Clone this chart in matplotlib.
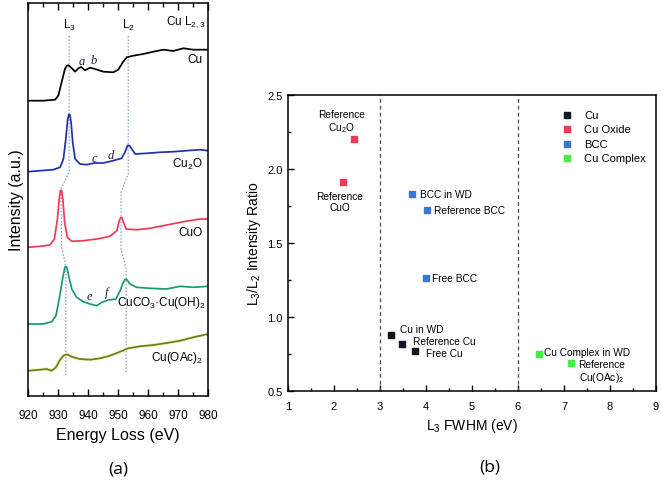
import numpy as np
import matplotlib.pyplot as plt
from matplotlib.ticker import MultipleLocator, FormatStrFormatter

plt.rcParams['font.family'] = ['Liberation Sans', 'DejaVu Sans']
plt.rcParams['mathtext.fontset'] = 'custom'
plt.rcParams['mathtext.rm'] = 'Liberation Sans'
plt.rcParams['mathtext.it'] = 'Liberation Sans:italic'

# ---- panel (a): EELS spectra (energy in eV, intensity in a.u., offset stacked)
e_cu = [920, 925.1, 929.0, 930.1, 931.2, 932.3, 933.0, 933.6, 934.6, 935.7, 936.8, 937.7, 939.0, 940.7, 942.3,
        945.1, 948.4, 950.1, 951.6, 952.9, 955.1, 958.4, 961.8, 965.1, 968.4, 971.8, 975.1, 980]
i_cu = [295.3, 295.3, 296.3, 300.3, 313.7, 327, 330.5, 330.5, 327.7, 324.3, 327.7, 329, 325.7, 328.3, 327,
        324.3, 323.7, 326.3, 333.7, 338.7, 340.3, 342, 344.3, 346.3, 345, 347.7, 346.3, 346.3]

e_cu2o = [920, 924, 928.4, 930.7, 931.8, 932.6, 933.2, 933.6, 934.0, 934.4, 934.9, 935.7, 937.3, 939.6, 942.1,
          945.1, 948.4, 951.2, 952.3, 953.2, 953.8, 954.6, 955.7, 959.6, 964.0, 968.4, 972.9, 977.3, 980]
i_cu2o = [224.3, 225.3, 226.3, 228.7, 237, 257, 276, 281.5, 281, 272, 253.7, 237, 232, 231.3, 233,
          233, 235.3, 237.7, 243.7, 250.5, 250.5, 247, 242, 242.7, 243.7, 244.3, 245.3, 246.3, 245.3]

e_cuo = [920, 924, 927.3, 928.8, 929.8, 930.4, 930.8, 931.2, 931.6, 932.2, 933.1, 934.6, 938.4, 942.9,
         947.3, 949.6, 950.4, 950.9, 951.3, 951.8, 952.7, 956.2, 960.7, 966.2, 971.8, 977.3, 980]
i_cuo = [148.7, 149.7, 151, 157, 177, 197, 205.5, 205.5, 197, 173.7, 158.7, 154.7, 155.3, 157,
         159.7, 165.3, 175.3, 178.5, 178.5, 173.7, 167, 166.3, 167.7, 171, 174.3, 177, 177]

e_carb = [920, 925.1, 927.9, 929.3, 930.4, 931.6, 932.3, 932.9, 933.6, 934.6, 936.2, 938.4, 940.7, 942.9,
          944.6, 946.8, 949.3, 950.7, 951.6, 952.3, 952.9, 954.0, 956.2, 960.7, 966.2, 970.7, 975.1, 980]
i_carb = [72, 72, 74.3, 80.3, 97, 118.7, 129, 129, 119.5, 107, 98.7, 94.3, 92, 90.3,
          93.7, 96, 97, 105.3, 112.7, 116.5, 116.5, 112, 108.7, 107.7, 107, 109.7, 108.7, 109.7]

e_oac = [920, 924, 926.2, 927.9, 929.3, 930.7, 931.8, 932.9, 934.6, 937.3, 940.7, 944.0, 947.3,
         950.7, 953.4, 957.3, 961.8, 966.2, 970.7, 975.1, 980]
i_oac = [25.3, 26.3, 27, 25.3, 28.7, 36.3, 40.3, 41.7, 39.3, 37, 36.3, 37.7, 40.3,
         44.3, 47.7, 49.7, 51, 53, 55.3, 58.7, 62]

# guide lines through the L3 and L2 peaks
l3_e = [933.7, 933.7, 931.0, 931.2, 932.6, 932.6]
l3_i = [360, 224, 207, 150, 130, 20]
l2_e = [953.4, 953.4, 951.0, 951.0, 952.7, 952.7]
l2_i = [360, 222, 204, 147, 127, 22]

# ---- panel (b): L3 FWHM vs L3/L2 ratio
cu_x = [3.25, 3.47, 3.77]
cu_y = [0.88, 0.82, 0.77]
oxide_x = [2.43, 2.19]
oxide_y = [2.20, 1.91]
bcc_x = [3.70, 4.02, 3.99]
bcc_y = [1.83, 1.72, 1.26]
complex_x = [6.45, 7.15]
complex_y = [0.75, 0.69]

fig = plt.figure(figsize=(6.61, 4.85), dpi=100)

# ---------------- (a)
ax = fig.add_axes([0.0424, 0.1814, 0.2723, 0.8104])
ax.plot(l3_e, l3_i, ls=(0, (1.5, 1.5)), color='#8a9cc4', lw=0.8)
ax.plot(l2_e, l2_i, ls=(0, (1.5, 1.5)), color='#8a9cc4', lw=0.8)
ax.plot(e_oac, i_oac, color='#f6f4c4', lw=2.6)
ax.plot(e_cu, i_cu, color='black', lw=1.25)
ax.plot(e_cu2o, i_cu2o, color='#2030a8', lw=1.25)
ax.plot(e_cuo, i_cuo, color='#f03a58', lw=1.25)
ax.plot(e_carb, i_carb, color='#1a9a72', lw=1.25)
ax.plot(e_oac, i_oac, color='#6b7d1c', lw=1.25)

ax.set_xlim(920, 980)
ax.set_ylim(0, 393)
ax.set_yticks([])
ax.xaxis.set_major_locator(MultipleLocator(10))
ax.xaxis.set_minor_locator(MultipleLocator(5))
ax.tick_params(axis='x', which='both', direction='in', top=True, labelsize=8.5, pad=9)
ax.tick_params(axis='x', which='major', length=5, width=1)
ax.tick_params(axis='x', which='minor', length=3, width=1)
for s in ax.spines.values():
    s.set_linewidth(1.1)
ax.set_xlabel('Energy Loss (eV)', fontsize=11.5, labelpad=5)
ax.set_ylabel('Intensity (a.u.)', fontsize=11.5, labelpad=3)

ax.text(933.7, 364, 'L$_3$', ha='center', va='bottom', fontsize=8.5)
ax.text(953.4, 364, 'L$_2$', ha='center', va='bottom', fontsize=8.5)
ax.text(979, 375, 'Cu L$_{2,3}$', ha='right', va='center', fontsize=8.5)
ax.text(978.3, 337, 'Cu', ha='right', va='center', fontsize=8.5)
ax.text(978.3, 233, 'Cu$_2$O', ha='right', va='center', fontsize=8.5)
ax.text(978.3, 164, 'CuO', ha='right', va='center', fontsize=8.5)
ax.text(979, 94, 'CuCO$_3$·Cu(OH)$_2$', ha='right', va='center', fontsize=8.5)
ax.text(978.3, 39, 'Cu(OAc)$_2$', ha='right', va='center', fontsize=8.5)
for lx, ly, t in [(937.8, 335, 'a'), (941.8, 336, 'b'), (942.1, 238, 'c'),
                  (947.7, 241, 'd'), (940.3, 99.7, 'e'), (946.2, 103.7, 'f')]:
    ax.text(lx, ly, t, ha='center', va='center', fontsize=9, family='Liberation Serif',
            style='italic', color='#1a1a40')

fig.text(118 / 661, 1 - 470 / 485, '(a)', ha='center', va='center', fontsize=12.5, family='Open Sans')

# ---------------- (b)
bx = fig.add_axes([0.4357, 0.1918, 0.5567, 0.6103])
bx.axvline(3, color='#3a4a66', ls=(0, (3, 2.5)), lw=0.9)
bx.axvline(6, color='#3a4a66', ls=(0, (3, 2.5)), lw=0.9)
bx.scatter(cu_x, cu_y, marker='s', s=22, color='#111822', label='Cu', zorder=3)
bx.scatter(oxide_x, oxide_y, marker='s', s=22, color='#f03a58', label='Cu Oxide', zorder=3)
bx.scatter(bcc_x, bcc_y, marker='s', s=22, color='#3a78d0', label='BCC', zorder=3)
bx.scatter(complex_x, complex_y, marker='s', s=22, color='#44ee44', label='Cu Complex', zorder=3)

bx.set_xlim(1, 9)
bx.set_ylim(0.5, 2.5)
bx.xaxis.set_major_locator(MultipleLocator(1))
bx.xaxis.set_minor_locator(MultipleLocator(0.5))
bx.yaxis.set_major_locator(MultipleLocator(0.5))
bx.yaxis.set_minor_locator(MultipleLocator(0.25))
bx.yaxis.set_major_formatter(FormatStrFormatter('%.1f'))
bx.tick_params(which='both', direction='in', labelsize=8)
bx.tick_params(axis='x', pad=7)
bx.tick_params(axis='y', pad=4)
bx.tick_params(which='major', length=4, width=1)
bx.tick_params(which='minor', length=2, width=1)
for s in bx.spines.values():
    s.set_linewidth(1.1)
bx.set_xlabel('L$_3$ FWHM (eV)', fontsize=10, labelpad=4)
bx.set_ylabel('L$_3$/L$_2$ Intensity Ratio', fontsize=10, labelpad=3)

fs = 7.3
bx.text(2.16, 2.32, 'Reference\nCu$_2$O', ha='center', va='center', fontsize=fs, linespacing=1.1)
bx.text(2.13, 1.78, 'Reference\nCuO', ha='center', va='center', fontsize=fs, linespacing=1.1)
bx.text(3.88, 1.83, 'BCC in WD', ha='left', va='center', fontsize=fs)
bx.text(4.17, 1.72, 'Reference BCC', ha='left', va='center', fontsize=fs)
bx.text(4.14, 1.26, 'Free BCC', ha='left', va='center', fontsize=fs)
bx.text(3.43, 0.92, 'Cu in WD', ha='left', va='center', fontsize=fs)
bx.text(3.72, 0.84, 'Reference Cu', ha='left', va='center', fontsize=fs)
bx.text(3.99, 0.757, 'Free Cu', ha='left', va='center', fontsize=fs)
bx.text(6.57, 0.76, 'Cu Complex in WD', ha='left', va='center', fontsize=fs)
bx.text(7.82, 0.63, 'Reference\nCu(OAc)$_2$', ha='center', va='center', fontsize=fs, linespacing=1.1)

bx.legend(loc='upper left', bbox_to_anchor=(0.715, 0.965), frameon=False, fontsize=8,
          handletextpad=0.6, labelspacing=0.4, borderaxespad=0, markerscale=1.0)

fig.text(490 / 661, 1 - 468 / 485, '(b)', ha='center', va='center', fontsize=12.5, family='Open Sans')

fig.savefig('out.png', dpi=100)
